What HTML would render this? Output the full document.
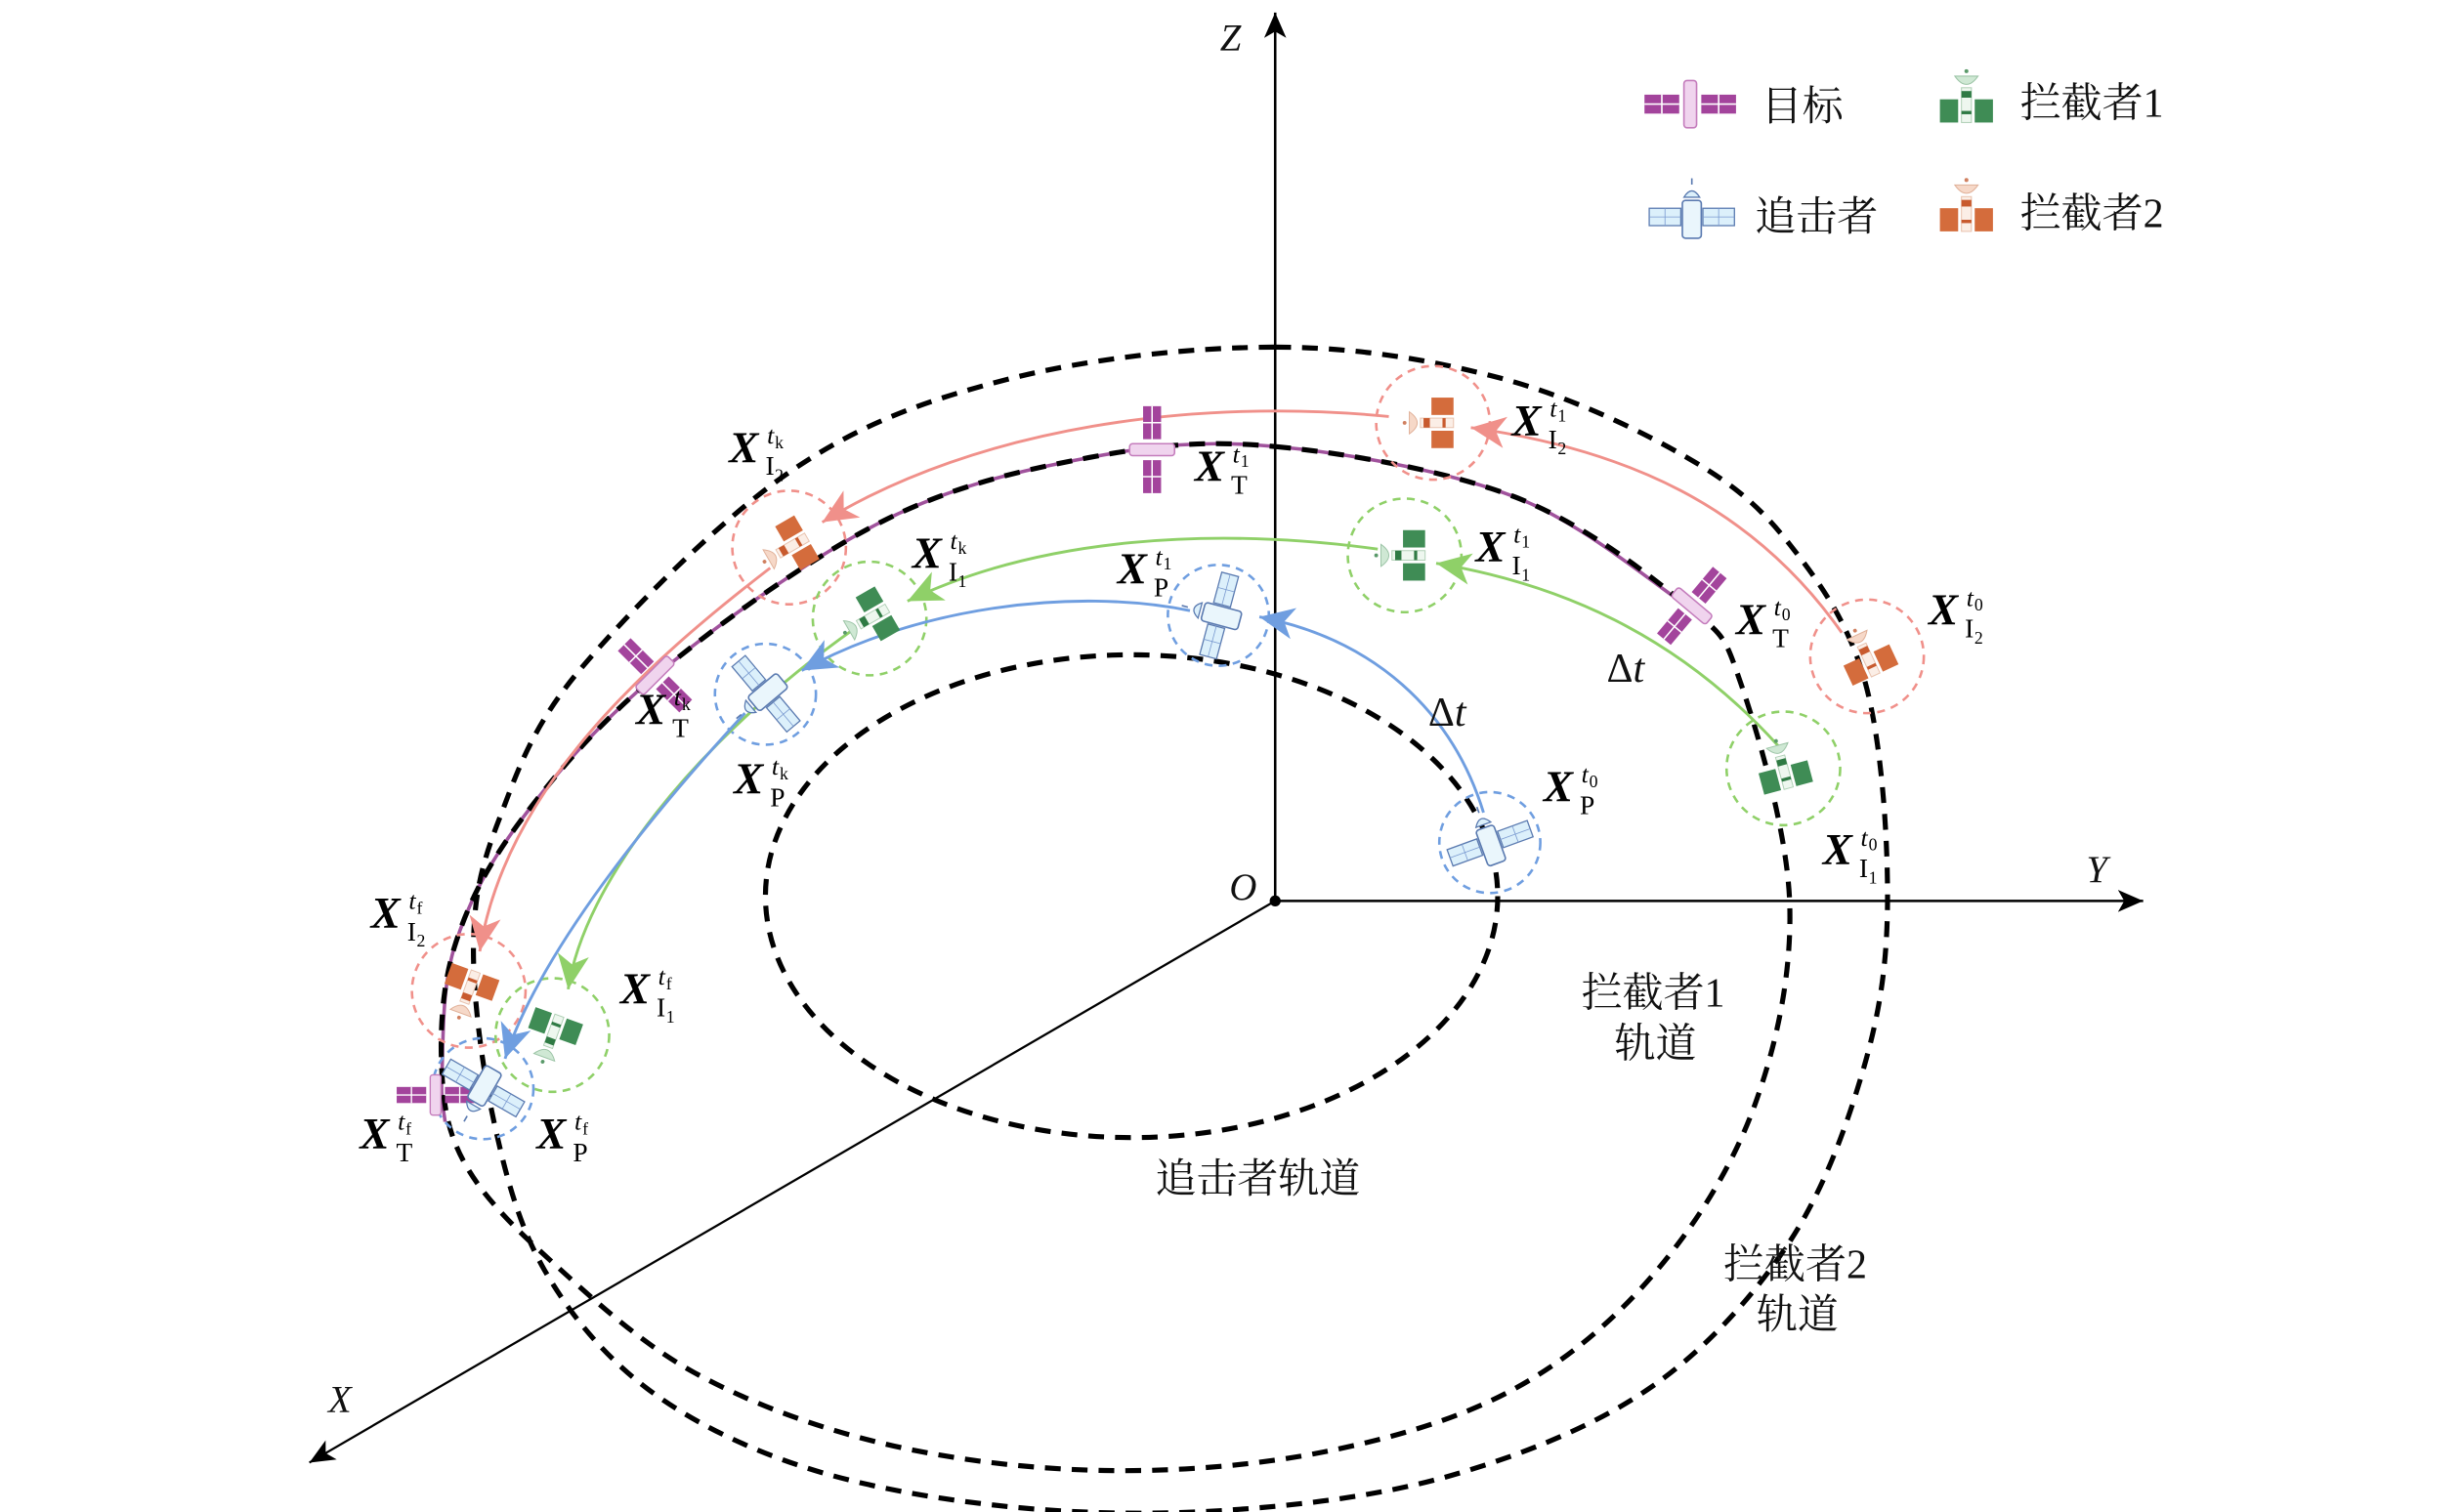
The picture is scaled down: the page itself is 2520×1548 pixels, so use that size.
<!DOCTYPE html>
<html><head><meta charset="utf-8">
<style>
html,body{margin:0;padding:0;background:#fff;}
svg{display:block;}
.cn{font-family:"Liberation Serif","Noto Serif CJK SC","Noto Sans CJK SC",serif;font-size:26px;fill:#111;}
.ax{font-family:"Liberation Serif",serif;font-style:italic;font-size:24px;fill:#111;}
.X{font-family:"Liberation Serif",serif;font-style:italic;font-weight:bold;font-size:28px;fill:#000;}
.sb{font-family:"Liberation Serif",serif;font-size:17px;fill:#000;}
.sp{font-family:"Liberation Serif",serif;font-style:italic;font-size:16px;fill:#000;}
.tn{font-family:"Liberation Serif",serif;font-size:11px;fill:#000;}
</style></head>
<body>
<svg id="s" width="2520" height="1548" viewBox="0 0 1560 958.3" xmlns="http://www.w3.org/2000/svg">
<defs>
<marker id="aR" markerUnits="userSpaceOnUse" markerWidth="26" markerHeight="22" refX="22" refY="10" orient="auto"><path d="M0,0 L22,10 L0,20 L6,10 Z" fill="#f0908a"/></marker>
<marker id="aG" markerUnits="userSpaceOnUse" markerWidth="26" markerHeight="22" refX="22" refY="10" orient="auto"><path d="M0,0 L22,10 L0,20 L6,10 Z" fill="#8fd068"/></marker>
<marker id="aB" markerUnits="userSpaceOnUse" markerWidth="26" markerHeight="22" refX="22" refY="10" orient="auto"><path d="M0,0 L22,10 L0,20 L6,10 Z" fill="#6f9ee0"/></marker>
<marker id="aK" markerUnits="userSpaceOnUse" markerWidth="20" markerHeight="16" refX="16" refY="7" orient="auto"><path d="M0,0 L16,7 L0,14 L4,7 Z" fill="#000"/></marker>
<g id="tgt">
 <rect x="-29" y="-6" width="22" height="12" fill="#a3449c"/>
 <line x1="-29" y1="0" x2="-7" y2="0" stroke="#fff" stroke-width="1"/><line x1="-18" y1="-6" x2="-18" y2="6" stroke="#fff" stroke-width="1"/>
 <rect x="7" y="-6" width="22" height="12" fill="#a3449c"/>
 <line x1="7" y1="0" x2="29" y2="0" stroke="#fff" stroke-width="1"/><line x1="18" y1="-6" x2="18" y2="6" stroke="#fff" stroke-width="1"/>
 <rect x="-4" y="-15" width="8" height="30" rx="2" fill="#f0d4ee" stroke="#c47cbc" stroke-width="1"/>
</g>
<g id="pur">
 <rect x="-27" y="-5" width="20" height="11" fill="#dcf0fb" stroke="#5a7ab0" stroke-width="0.8"/>
 <line x1="-27" y1="0.5" x2="-7" y2="0.5" stroke="#7a9ad0" stroke-width="0.5"/><line x1="-17" y1="-5" x2="-17" y2="6" stroke="#7a9ad0" stroke-width="0.5"/>
 <rect x="7" y="-5" width="20" height="11" fill="#dcf0fb" stroke="#5a7ab0" stroke-width="0.8"/>
 <line x1="7" y1="0.5" x2="27" y2="0.5" stroke="#7a9ad0" stroke-width="0.5"/><line x1="17" y1="-5" x2="17" y2="6" stroke="#7a9ad0" stroke-width="0.5"/>
 <rect x="-6" y="-10" width="12" height="24" rx="2" fill="#eaf6fc" stroke="#5a7ab0" stroke-width="1"/>
 <path d="M-5,-12 Q0,-20 5,-12 Z" fill="#dcf0fb" stroke="#5a7ab0" stroke-width="0.8"/>
 <line x1="0" y1="-20" x2="0" y2="-24" stroke="#5a7ab0" stroke-width="1"/>
</g>
<g id="i1">
 <rect x="-16" y="-1" width="11" height="14" fill="#3f8c55"/>
 <rect x="5" y="-1" width="11" height="14" fill="#3f8c55"/>
 <rect x="-3" y="-8" width="6" height="21" fill="#eef7ef" stroke="#b0d0b6" stroke-width="0.6"/>
 <rect x="-3" y="-6" width="6" height="4" fill="#2f7a44"/><rect x="-3" y="6" width="6" height="2" fill="#2f7a44"/>
 <path d="M-7,-15 Q0,-5 7,-15 Z" fill="#cfe8d4" stroke="#9cc4a6" stroke-width="0.6"/>
 <circle cx="0" cy="-18" r="1.2" fill="#5a9a6a"/>
</g>
<g id="i2">
 <rect x="-16" y="-1" width="11" height="14" fill="#d46c3c"/>
 <rect x="5" y="-1" width="11" height="14" fill="#d46c3c"/>
 <rect x="-3" y="-8" width="6" height="21" fill="#fbeee6" stroke="#e8c2ae" stroke-width="0.6"/>
 <rect x="-3" y="-6" width="6" height="4" fill="#c85a2e"/><rect x="-3" y="6" width="6" height="2" fill="#c85a2e"/>
 <path d="M-7,-15 Q0,-5 7,-15 Z" fill="#f6d8c8" stroke="#e0b098" stroke-width="0.6"/>
 <circle cx="0" cy="-18" r="1.2" fill="#d08060"/>
</g>
</defs>

<line x1="808" y1="571" x2="808" y2="8" stroke="#000" stroke-width="1.6" marker-end="url(#aK)"/>
<line x1="808" y1="571" x2="1358" y2="571" stroke="#000" stroke-width="1.6" marker-end="url(#aK)"/>
<line x1="808" y1="571" x2="196" y2="927" stroke="#000" stroke-width="1.4" marker-end="url(#aK)"/>
<circle cx="808" cy="571" r="3.5" fill="#000"/>
<text class="ax" x="773" y="32">Z</text>
<text class="ax" x="1322" y="559">Y</text>
<text class="ax" x="208" y="895">X</text>
<text class="ax" x="779" y="570">O</text>

<ellipse cx="717" cy="568" rx="232" ry="153" fill="none" stroke="#000" stroke-width="3.2" stroke-dasharray="10,7"/>

<path id="tpath" fill="none" stroke="#a0529c" stroke-width="2.2"/>
<path id="orb1" fill="none" stroke="#000" stroke-width="3.2" stroke-dasharray="10,7"/>
<path id="orb2" fill="none" stroke="#000" stroke-width="3.2" stroke-dasharray="10,7"/>

<g fill="none" stroke-width="1.6" stroke-dasharray="5,4">
 <circle cx="908" cy="268" r="36" stroke="#f0908a"/>
 <circle cx="1183" cy="416" r="36" stroke="#f0908a"/>
 <circle cx="500" cy="347" r="36" stroke="#f0908a"/>
 <circle cx="297" cy="628" r="36" stroke="#f0908a"/>
 <circle cx="890" cy="352" r="36" stroke="#8fd068"/>
 <circle cx="1130" cy="487" r="36" stroke="#8fd068"/>
 <circle cx="551" cy="392" r="36" stroke="#8fd068"/>
 <circle cx="350" cy="656" r="36" stroke="#8fd068"/>
 <circle cx="772" cy="390" r="32" stroke="#6f9ee0"/>
 <circle cx="944" cy="534" r="32" stroke="#6f9ee0"/>
 <circle cx="485" cy="440" r="32" stroke="#6f9ee0"/>
 <circle cx="306" cy="690" r="32" stroke="#6f9ee0"/>
</g>

<g fill="none" stroke-width="1.8">
 <path d="M1167,401 C1110,320 1030,285 932,271" stroke="#f0908a" marker-end="url(#aR)"/>
 <path d="M880,264 C760,252 620,270 521,331" stroke="#f0908a" marker-end="url(#aR)"/>
 <path d="M488,360 C410,420 320,500 304,603" stroke="#f0908a" marker-end="url(#aR)"/>
 <path d="M1127,473 C1070,410 1000,372 910,357" stroke="#8fd068" marker-end="url(#aG)"/>
 <path d="M873,348 C770,334 660,340 575,381" stroke="#8fd068" marker-end="url(#aG)"/>
 <path d="M542,398 C440,470 370,560 360,627" stroke="#8fd068" marker-end="url(#aG)"/>
 <path d="M940,515 C920,450 870,405 798,391" stroke="#6f9ee0" marker-end="url(#aB)"/>
 <path d="M754,387 C680,372 580,385 508,425" stroke="#6f9ee0" marker-end="url(#aB)"/>
 <path d="M472,452 C400,530 340,610 320,671" stroke="#6f9ee0" marker-end="url(#aB)"/>
</g>

<use href="#tgt" transform="translate(730,285) rotate(90) scale(0.95)"/>
<use href="#tgt" transform="translate(1072,384) rotate(-50) scale(0.95)"/>
<use href="#tgt" transform="translate(415,428) rotate(45) scale(0.95)"/>
<use href="#tgt" transform="translate(276,694) scale(0.85)"/>
<use href="#i2" transform="translate(908,268) rotate(-90)"/>
<use href="#i2" transform="translate(1183,416) rotate(-25)"/>
<use href="#i2" transform="translate(500,347) rotate(-120)"/>
<use href="#i2" transform="translate(297,628) rotate(-160)"/>
<use href="#i1" transform="translate(890,352) rotate(-90)"/>
<use href="#i1" transform="translate(1130,487) rotate(-15)"/>
<use href="#i1" transform="translate(551,392) rotate(-120)"/>
<use href="#i1" transform="translate(350,656) rotate(-160)"/>
<use href="#pur" transform="translate(772,390) rotate(-75)"/>
<use href="#pur" transform="translate(944,534) rotate(-20)"/>
<use href="#pur" transform="translate(485,440) rotate(-130)"/>
<use href="#pur" transform="translate(306,690) rotate(-150)"/>

<g id="labels"></g>

<text class="ax" x="1018" y="432" style="font-style:normal;font-size:26px">Δ<tspan font-style="italic">t</tspan></text>
<text class="ax" x="905" y="460" style="font-style:normal;font-size:26px">Δ<tspan font-style="italic">t</tspan></text>

<text class="cn" x="1002" y="638">拦截者1</text>
<text class="cn" x="1023" y="670">轨道</text>
<text class="cn" x="1092" y="810">拦截者2</text>
<text class="cn" x="1113" y="842">轨道</text>
<text class="cn" x="732" y="756">追击者轨道</text>

<use href="#tgt" transform="translate(1071,66)"/>
<text class="cn" x="1116" y="76">目标</text>
<use href="#i1" transform="translate(1246,64) scale(1.05)"/>
<text class="cn" x="1280" y="74">拦截者1</text>
<use href="#pur" transform="translate(1072,137)"/>
<text class="cn" x="1112" y="146">追击者</text>
<use href="#i2" transform="translate(1246,133) scale(1.05)"/>
<text class="cn" x="1280" y="144">拦截者2</text>
</svg>
<script>
function cr(p,closed){
 var n=p.length,d="M"+p[0][0]+","+p[0][1];
 var lim=closed?n:n-1;
 for(var i=0;i<lim;i++){
  var p0=p[(i-1+n)%n],p1=p[i],p2=p[(i+1)%n],p3=p[(i+2)%n];
  if(!closed){ if(i==0)p0=p1; if(i+2>=n)p3=p2; }
  var c1=[p1[0]+(p2[0]-p0[0])/6,p1[1]+(p2[1]-p0[1])/6];
  var c2=[p2[0]-(p3[0]-p1[0])/6,p2[1]-(p3[1]-p1[1])/6];
  d+=" C"+c1[0].toFixed(1)+","+c1[1].toFixed(1)+" "+c2[0].toFixed(1)+","+c2[1].toFixed(1)+" "+p2[0]+","+p2[1];
 }
 return d+(closed?" Z":"");
}
var o1=[[808,283],[960,315],[1069,384],[1103,433],[1134,572],[1112,700],[1050,805],[960,880],[840,920],[700,932],[560,915],[440,870],[350,800],[296,740],[280,680],[288,600],[330,520],[417,427],[560,330],[690,290]];
var o2=[[808,220],[952,240],[1069,290],[1134,345],[1182,433],[1196,572],[1180,680],[1132,790],[1045,880],[920,935],[780,957],[640,955],[510,930],[410,880],[345,805],[313,711],[300,599],[316,520],[367,425],[502,298],[640,240]];
document.getElementById("orb1").setAttribute("d",cr(o1,true));
document.getElementById("orb2").setAttribute("d",cr(o2,true));
var tp=[[1069,384],[960,315],[808,283],[690,290],[560,330],[417,427],[330,520],[288,600],[280,680],[282,711]];
document.getElementById("tpath").setAttribute("d",cr(tp,false));
var L=[[958,276,"I","2","t","1"],[935,356,"I","1","t","1"],[757,305,"T","","t","1"],[708,370,"P","","t","1"],[1100,402,"T","","t","0"],[1222,396,"I","2","t","0"],[978,508,"P","","t","0"],[1155,548,"I","1","t","0"],[462,293,"I","2","t","k"],[578,360,"I","1","t","k"],[403,459,"T","","t","k"],[465,503,"P","","t","k"],[235,588,"I","2","t","f"],[393,636,"I","1","t","f"],[228,728,"T","","t","f"],[340,728,"P","","t","f"]];
var ns="http://www.w3.org/2000/svg",g=document.getElementById("labels");
function t(cls,x,y,s){var e=document.createElementNS(ns,"text");e.setAttribute("class",cls);e.setAttribute("x",x);e.setAttribute("y",y);e.textContent=s;g.appendChild(e);}
L.forEach(function(l){
 var x=l[0],y=l[1];
 t("X",x,y,"X");
 t("sb",x+23,y+8,l[2]);
 if(l[3])t("tn",x+29,y+12,l[3]);
 t("sp",x+24,y-12,"t");
 t("tn",x+29,y-9,l[5]);
});
</script>
</body></html>
